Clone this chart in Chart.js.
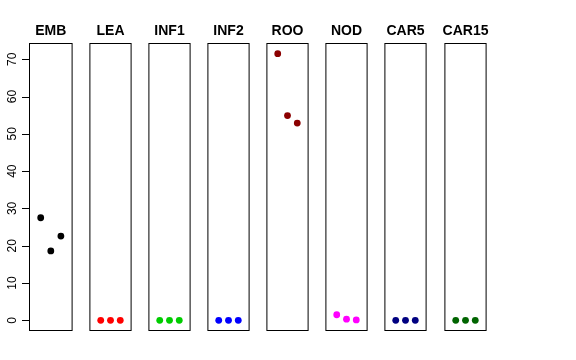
<!DOCTYPE html>
<html>
<head>
<meta charset="utf-8">
<script src="https://cdn.jsdelivr.net/npm/chart.js@4/dist/chart.umd.min.js"></script>
<style>
  body { margin: 0; background: #fff; }
  #wrap { position: relative; width: 576px; height: 360px; }
  #wrap canvas { position: absolute; top: 0; }
</style>
</head>
<body>
<div id="wrap"></div>
<script>
// one panel per tissue, three replicates each
const tissues = ['EMB', 'LEA', 'INF1', 'INF2', 'ROO', 'NOD', 'CAR5', 'CAR15'];
const colors = ['#000000', '#FF0000', '#00CD00', '#0000FF', '#8B0000', '#FF00FF', '#000080', '#006400'];
const replicate = [1, 2, 3];

const EMB = [27.5, 18.6, 22.6];
const LEA = [0, 0, 0];
const INF1 = [0, 0, 0];
const INF2 = [0, 0, 0];
const ROO = [71.5, 54.9, 52.9];
const NOD = [1.5, 0.3, 0.1];
const CAR5 = [0, 0, 0];
const CAR15 = [0, 0, 0];
const values = [EMB, LEA, INF1, INF2, ROO, NOD, CAR5, CAR15];

const yTicks = [0, 10, 20, 30, 40, 50, 60, 70];

const boxLefts = [29, 88, 147, 206, 265, 324, 383, 443];
const boxWidth = 45;

/* box round the plot area + panel title */
const panelBox = {
    id: 'panelBox',
    afterDraw(chart, args, opts) {
        const ctx = chart.ctx;
        const a = chart.chartArea;
        ctx.save();
        ctx.strokeStyle = '#000';
        ctx.lineWidth = 1;
        ctx.strokeRect(a.left + 0.5, a.top + 0.5, a.right - a.left - 1, a.bottom - a.top - 1);
        ctx.fillStyle = '#000';
        ctx.font = 'bold 14px "Liberation Sans", Arial, sans-serif';
        ctx.textAlign = 'center';
        ctx.textBaseline = 'alphabetic';
        ctx.fillText(opts.title, (a.left + a.right) / 2, 35);

        if (opts.axis) {
            const y = chart.scales.y;
            ctx.beginPath();
            ctx.moveTo(a.left + 0.5, Math.round(y.getPixelForValue(yTicks[0])) + 0.5);
            ctx.lineTo(a.left + 0.5, Math.round(y.getPixelForValue(yTicks[yTicks.length - 1])) + 0.5);
            yTicks.forEach(t => {
                const py = Math.round(y.getPixelForValue(t)) + 0.5;
                ctx.moveTo(a.left - 7, py);
                ctx.lineTo(a.left + 0.5, py);
            });
            ctx.stroke();
            ctx.font = '12px "Liberation Sans", Arial, sans-serif';
            yTicks.forEach(t => {
                ctx.save();
                ctx.translate(16, y.getPixelForValue(t));
                ctx.rotate(-Math.PI / 2);
                ctx.fillText(String(t), 0, 0);
                ctx.restore();
            });
        }
        ctx.restore();
    }
};

const wrap = document.getElementById('wrap');

tissues.forEach((name, p) => {
    const padL = p === 0 ? boxLefts[0] : 2;
    const padR = 2;
    const cv = document.createElement('canvas');
    cv.width = padL + boxWidth + padR;
    cv.height = 360;
    cv.style.left = (boxLefts[p] - padL) + 'px';
    wrap.appendChild(cv);

    new Chart(cv, {
        type: 'scatter',
        data: {
            datasets: [{
                data: replicate.map((r, i) => ({ x: r, y: values[p][i] })),
                backgroundColor: colors[p],
                borderColor: colors[p],
                borderWidth: 0,
                pointRadius: 3.4,
                pointHoverRadius: 3.4
            }]
        },
        options: {
            responsive: false,
            animation: false,
            events: [],
            layout: { padding: { left: padL, right: padR, top: 43, bottom: 29 } },
            scales: {
                x: { type: 'linear', display: false, min: -0.16, max: 4.16 },
                y: { type: 'linear', display: false, min: -2.86, max: 74.36 }
            },
            plugins: {
                legend: { display: false },
                tooltip: { enabled: false },
                panelBox: { title: name, axis: p === 0 }
            }
        },
        plugins: [panelBox]
    });
});
</script>
</body>
</html>
